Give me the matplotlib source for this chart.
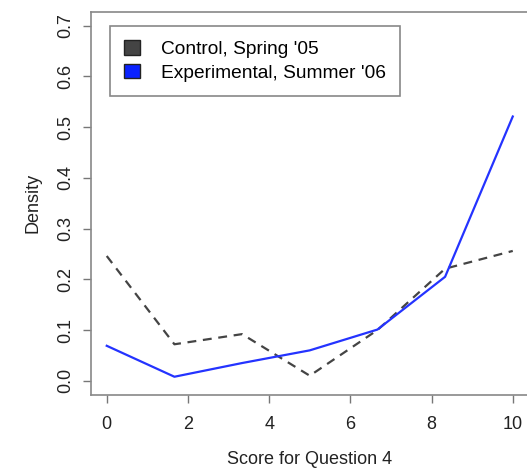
import matplotlib
matplotlib.use("Agg")
import matplotlib.pyplot as plt
from matplotlib.patches import Patch

# scores (7 bins over 0..10)
scores = [0, 10/6, 20/6, 5, 40/6, 50/6, 10]
control = [0.246, 0.072, 0.092, 0.010, 0.100, 0.221, 0.256]
experimental = [0.069, 0.008, 0.035, 0.060, 0.101, 0.205, 0.521]
labels = ["Control, Spring '05", "Experimental, Summer '06"]

plt.rcParams['font.family'] = ['Liberation Sans', 'DejaVu Sans']

fig = plt.figure(figsize=(5.27, 4.70), dpi=100)
ax = fig.add_axes([90.5/527, 75/470, 438.5/527, 383.5/470])

ax.plot(scores, control, color='#444444', lw=1.6, dashes=(4, 3))
ax.plot(scores, experimental, color='#2433ff', lw=1.6)

ax.set_xlim(-0.4, 10.4)
ax.set_ylim(-0.028, 0.728)
ax.set_xticks([0, 2, 4, 6, 8, 10])
ax.set_yticks([0.0, 0.1, 0.2, 0.3, 0.4, 0.5, 0.6, 0.7])
ax.set_yticklabels(['0.0', '0.1', '0.2', '0.3', '0.4', '0.5', '0.6', '0.7'],
                   rotation=90, va='center')
for sp in ax.spines.values():
    sp.set_color('#888888')
    sp.set_linewidth(1.2)
ax.tick_params(axis='both', length=6, width=1.0, color='#777777',
               labelsize=13, labelcolor='#222222', pad=6)
ax.tick_params(axis='x', pad=9)

ax.set_xlabel('Score for Question 4', fontsize=13, color='#222222', labelpad=13)
ax.set_ylabel('Density', fontsize=13, color='#222222', labelpad=11)

handles = [Patch(facecolor='#444444', edgecolor='#222222'),
           Patch(facecolor='#0a22ff', edgecolor='#222222')]
leg = ax.legend(handles, labels, loc='upper left', bbox_to_anchor=(0.0445, 0.963),
                borderaxespad=0, fancybox=False, fontsize=13.8, handlelength=0.8,
                handleheight=0.8, handletextpad=1.1, borderpad=0.75, labelspacing=0.3,
                framealpha=1)
leg.get_frame().set_edgecolor('#888888')
leg.get_frame().set_linewidth(1.2)

fig.savefig('out.png', dpi=100)
